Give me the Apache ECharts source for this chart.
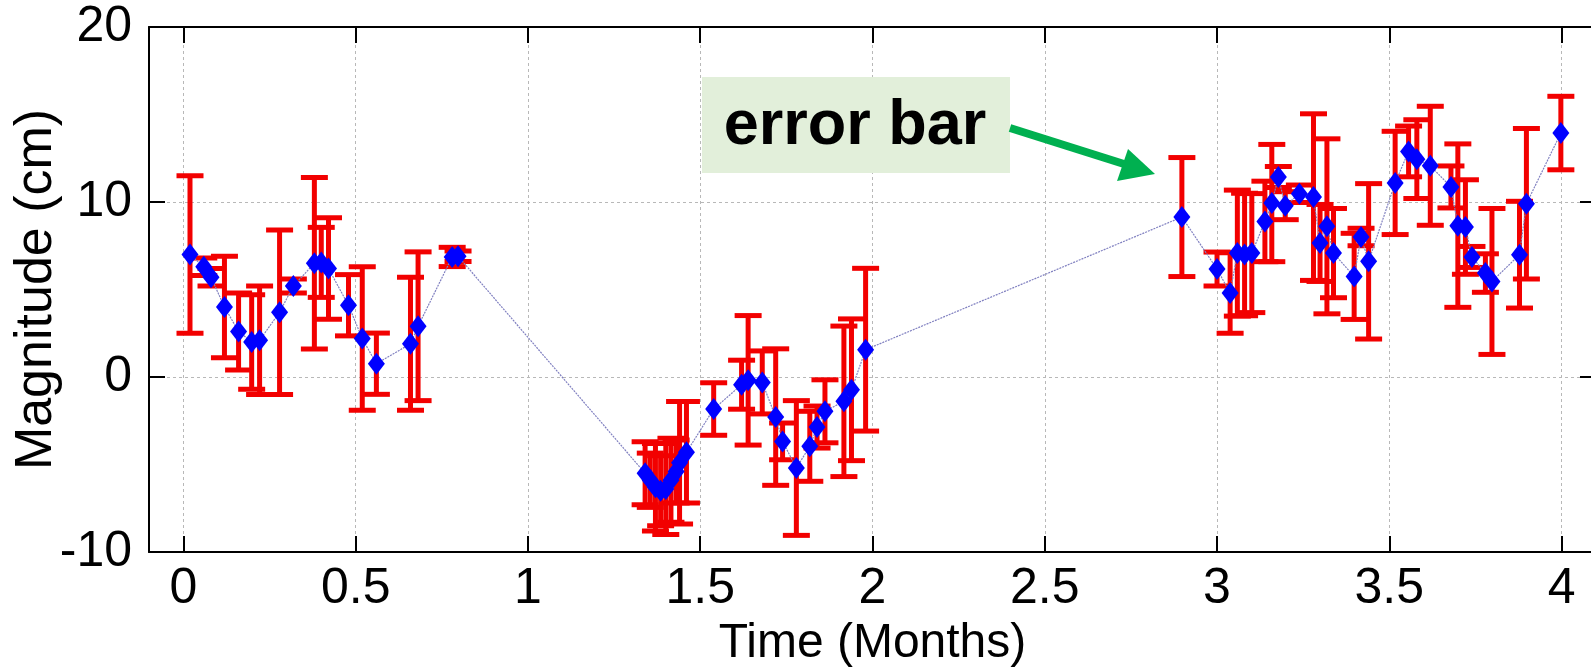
<!DOCTYPE html>
<html>
<head>
<meta charset="utf-8">
<title>Magnitude error bars</title>
<script src="https://cdn.jsdelivr.net/npm/echarts@6/dist/echarts.min.js"></script>
<style>
  html, body { margin: 0; padding: 0; background: #fff; }
  #chart { width: 1591px; height: 669px; }
</style>
</head>
<body>
<div id="chart"></div>
<script>
// time (months)
var timeMonths = [
  0.019, 0.059, 0.080, 0.119, 0.160, 0.198, 0.221, 0.279, 0.319, 0.380,
  0.400, 0.421, 0.479, 0.519, 0.560, 0.659, 0.681, 0.780, 0.797,
  1.340, 1.355, 1.370, 1.385, 1.400, 1.415, 1.430, 1.440, 1.460,
  1.539, 1.620, 1.639, 1.680, 1.719, 1.739, 1.779, 1.818, 1.839, 1.862,
  1.917, 1.939, 1.980,
  2.898, 3.000, 3.038, 3.059, 3.080, 3.101, 3.139, 3.159, 3.178, 3.198,
  3.239, 3.280, 3.299, 3.319, 3.338, 3.398, 3.418, 3.440,
  3.517, 3.556, 3.580, 3.619, 3.679, 3.699, 3.721, 3.740, 3.779, 3.798,
  3.878, 3.898, 3.998
];
// magnitude (cm)
var magnitude = [
  7.0, 6.3, 5.7, 4.0, 2.6, 2.0, 2.1, 3.7, 5.2, 6.5,
  6.55, 6.2, 4.1, 2.2, 0.76, 1.9, 2.9, 6.86, 6.9,
  -5.5, -5.9, -6.3, -6.5, -6.4, -5.9, -5.4, -4.9, -4.3,
  -1.83, -0.44, -0.19, -0.31, -2.29, -3.68, -5.2, -3.96, -2.86, -1.96,
  -1.39, -0.73, 1.56,
  9.14, 6.17, 4.8, 7.08, 7.0, 7.08, 8.89, 9.94, 11.43, 9.79,
  10.47, 10.28, 7.66, 8.61, 7.08, 5.75, 8.0, 6.61,
  11.09, 12.89, 12.45, 12.07, 10.86, 8.65, 8.57, 6.86, 5.94, 5.46,
  6.99, 9.9, 13.94
];
// half length of each error bar (cm)
var errorHalf = [
  4.5, 0.5, 0.5, 2.9, 2.2, 2.7, 3.1, 4.7, 0.4, 4.9,
  2.0, 2.9, 1.75, 4.1, 1.75, 3.8, 4.25, 0.55, 0.3,
  1.8, 1.55, 2.5, 2.0, 2.6, 2.4, 1.8, 3.5, 2.9,
  1.5, 1.4, 3.7, 1.8, 3.9, 1.05, 3.85, 2.0, 1.2, 1.8,
  4.3, 4.05, 4.65,
  3.4, 0.97, 2.3, 3.6, 3.5, 3.4, 2.3, 3.35, 0.6, 0.8,
  0.5, 4.76, 2.2, 5.0, 2.55, 2.46, 0.5, 4.44,
  2.95, 1.45, 2.25, 3.4, 1.2, 4.67, 2.7, 0.6, 1.1, 4.17,
  3.05, 4.3, 2.1
];
var xTicks = [0, 0.5, 1, 1.5, 2, 2.5, 3, 3.5, 4];
var yTicks = [-10, 0, 10, 20];

var FONT = "'Liberation Sans', Arial, sans-serif";

var points = [];
var bars = [];
for (var i = 0; i < timeMonths.length; i++) {
  points.push([timeMonths[i], magnitude[i]]);
  bars.push([timeMonths[i], magnitude[i] - errorHalf[i], magnitude[i] + errorHalf[i]]);
}

var chart = echarts.init(document.getElementById('chart'));

var gridLine = { show: true, lineStyle: { color: '#b8b8b8', width: 1, type: [3, 3] } };
var blackLine = { show: true, onZero: false, lineStyle: { color: '#000', width: 2 } };
var tickIn = { show: true, inside: true, length: 16, lineStyle: { color: '#000', width: 2 } };

var option = {
  backgroundColor: '#fff',
  animation: false,
  grid: { left: 149, right: -5, top: 27, bottom: 117, containLabel: false, outerBoundsMode: 'none' },
  xAxis: [{
    type: 'value',
    min: -0.1,
    max: 4.1,
    position: 'bottom',
    axisLine: blackLine,
    axisTick: Object.assign({ customValues: xTicks }, tickIn),
    splitLine: gridLine,
    axisLabel: {
      customValues: xTicks,
      margin: 12,
      color: '#000',
      fontFamily: FONT,
      fontSize: 50
    },
    name: 'Time (Months)',
    nameLocation: 'middle',
    nameGap: 68,
    nameMoveOverlap: false,
    nameTextStyle: { color: '#000', fontFamily: FONT, fontSize: 48 }
  }, {
    type: 'value',
    min: -0.1,
    max: 4.1,
    position: 'top',
    axisLine: blackLine,
    axisTick: Object.assign({ customValues: xTicks }, tickIn),
    splitLine: { show: false },
    axisLabel: { show: false }
  }],
  yAxis: [{
    type: 'value',
    min: yTicks[0],
    max: yTicks[yTicks.length - 1],
    interval: 10,
    position: 'left',
    axisLine: blackLine,
    axisTick: tickIn,
    splitLine: gridLine,
    axisLabel: {
      margin: 17,
      color: '#000',
      fontFamily: FONT,
      fontSize: 50
    },
    name: 'Magnitude (cm)',
    nameLocation: 'middle',
    nameGap: 86,
    nameMoveOverlap: false,
    nameTextStyle: { color: '#000', fontFamily: FONT, fontSize: 52 }
  }, {
    type: 'value',
    min: yTicks[0],
    max: yTicks[yTicks.length - 1],
    interval: 10,
    position: 'right',
    axisLine: blackLine,
    axisTick: tickIn,
    splitLine: { show: false },
    axisLabel: { show: false }
  }],
  series: [{
    name: 'error',
    type: 'custom',
    data: bars,
    encode: { x: 0, y: [1, 2] },
    z: 2,
    renderItem: function (params, api) {
      var x = api.value(0);
      var lo = api.coord([x, api.value(1)]);
      var hi = api.coord([x, api.value(2)]);
      var hw = 13.5;
      var st = { stroke: '#f20000', lineWidth: 5 };
      return {
        type: 'group',
        children: [
          { type: 'line', shape: { x1: lo[0], y1: lo[1], x2: hi[0], y2: hi[1] }, style: st },
          { type: 'line', shape: { x1: hi[0] - hw, y1: hi[1], x2: hi[0] + hw, y2: hi[1] }, style: st },
          { type: 'line', shape: { x1: lo[0] - hw, y1: lo[1], x2: lo[0] + hw, y2: lo[1] }, style: st }
        ]
      };
    }
  }, {
    name: 'trend',
    type: 'line',
    data: points,
    showSymbol: false,
    z: 3,
    lineStyle: { color: '#8080c0', width: 1.2, type: [2, 1] }
  }, {
    name: 'magnitude',
    type: 'scatter',
    data: points,
    symbol: 'diamond',
    symbolSize: [17, 22],
    z: 4,
    itemStyle: { color: '#0000ff', opacity: 1 }
  }],
  graphic: [{
    type: 'rect',
    shape: { x: 702, y: 77, width: 308, height: 96 },
    style: { fill: '#e2efda' },
    z: 10
  }, {
    type: 'text',
    x: 855,
    y: 127,
    style: {
      text: 'error bar',
      fill: '#000',
      font: 'bold 63px ' + FONT,
      textAlign: 'center',
      textVerticalAlign: 'middle'
    },
    z: 11
  }, {
    type: 'line',
    shape: { x1: 1010, y1: 128, x2: 1124, y2: 164 },
    style: { stroke: '#00b050', lineWidth: 8 },
    z: 11
  }, {
    type: 'polygon',
    shape: { points: [[1155, 174], [1128, 149], [1117, 181]] },
    style: { fill: '#00b050' },
    z: 11
  }]
};

chart.setOption(option);
</script>
</body>
</html>
